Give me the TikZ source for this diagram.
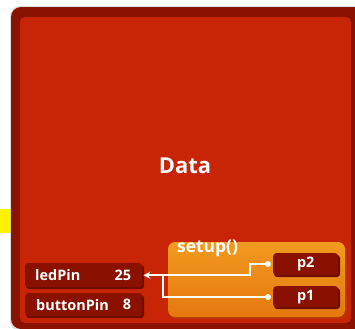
\documentclass[tikz,border=0pt]{standalone}
\usepackage{fontspec}
\setmainfont{Open Sans}
\usetikzlibrary{arrows.meta}
\definecolor{darkred}{HTML}{8A1200}
\definecolor{mainred}{HTML}{C82406}
\definecolor{boxred}{HTML}{8A1100}
\definecolor{shadowred}{HTML}{6E0C00}
\definecolor{orangetop}{HTML}{F29A1F}
\definecolor{orangebot}{HTML}{E5780F}
\definecolor{yellowbar}{RGB}{255,242,0}
\tikzset{
  varbox/.style={fill=boxred, rounded corners=3bp, minimum height=23bp, inner sep=0pt, anchor=north west},
  lbl/.style={text=white, font=\bfseries\fontsize{14.5}{17}\selectfont, inner sep=0pt},
  conn/.style={draw=white, line width=2bp},
  dot/.style={circle, fill=white, minimum size=6bp, inner sep=0pt},
}
\begin{document}
\begin{tikzpicture}[x=1bp, y=-1bp]
\useasboundingbox (0,0) rectangle (355,329);
% yellow bar
\fill[fill=yellowbar] (0,209) rectangle (12,233);
% outer frame
\fill[black!25, opacity=0.5, rounded corners=10bp] (10,6) rectangle (365,331);
\fill[darkred, rounded corners=10bp] (11,7) rectangle (365,329);
\fill[mainred, rounded corners=5bp] (20,17) rectangle (351,323);
\node[text=white, font=\bfseries\fontsize{22}{26}\selectfont] (data) at (185,166) {Data};
% setup box
\fill[orangebot!70!black, opacity=0.35, rounded corners=7bp] (169,244) rectangle (347,319);
\shade[top color=orangetop, bottom color=orangebot, rounded corners=7bp] (168,242) rectangle (345,317);
\node[lbl, font=\bfseries\fontsize{17.5}{20}\selectfont, anchor=north west] (setuplbl) at (177,240) {setup()};
% parameter boxes
\fill[shadowred, rounded corners=3bp] (274,255) rectangle (340,277);
\node[varbox, minimum width=65bp, minimum height=22bp] (p2) at (273,253) {};
\node[lbl] (p2t) at (p2.center) {p2};
\fill[shadowred, rounded corners=3bp] (274,288) rectangle (340,309);
\node[varbox, minimum width=65bp, minimum height=21bp] (p1) at (273,286) {};
\node[lbl] (p1t) at (p1.center) {p1};
% variable boxes
\fill[shadowred, rounded corners=3bp] (26,265) rectangle (144,289);
\node[varbox, minimum width=117bp, minimum height=24bp] (led) at (25,263) {};
\node[lbl, anchor=west] (ledt) at ([xshift=10bp]led.west) {ledPin};
\node[lbl, anchor=east] (led25) at ([xshift=-11bp]led.east) {25};
\fill[shadowred, rounded corners=3bp] (26,295) rectangle (144,318);
\node[varbox, minimum width=117bp, minimum height=23bp] (btn) at (25,293) {};
\node[lbl, anchor=west] (btnt) at ([xshift=11bp]btn.west) {buttonPin};
\node[lbl, anchor=east] (btn8) at ([xshift=-11bp]btn.east) {8};
% connectors
\node[dot] (p2dot) at (268,264) {};
\node[dot] (p1dot) at (268,297) {};
\coordinate (jn) at (163,275);
\draw[conn, -{Stealth[length=7bp,width=7bp]}] (p2dot.center) -- (250,264) |- ([xshift=1bp]led.east);
\draw[conn] (p1dot.center) -| (jn);
\end{tikzpicture}
\end{document}
